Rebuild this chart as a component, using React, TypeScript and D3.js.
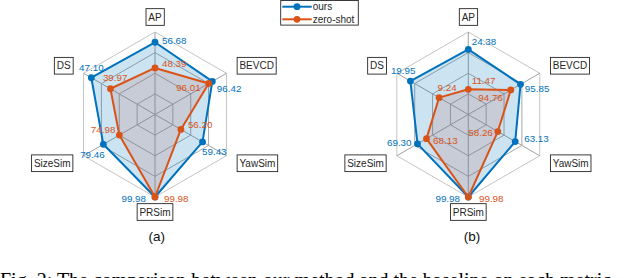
import React, { useEffect, useRef } from 'react';
import * as d3 from 'd3';

// axes, clockwise from the top
const axes = ['AP', 'BEVCD', 'YawSim', 'PRSim', 'SizeSim', 'DS'];

// chart (a)
const oursA = [56.68, 96.42, 59.43, 99.98, 79.46, 47.1];
const zeroA = [48.39, 96.01, 56.2, 99.98, 74.98, 39.97];
const limitsA = [[40, 60], [92, 98], [55, 63], [99.5, 99.98], [70, 85], [30, 50]];

// chart (b)
const oursB = [24.38, 95.85, 63.13, 99.98, 69.3, 19.95];
const zeroB = [11.47, 94.76, 58.26, 99.98, 68.13, 9.24];
const limitsB = [[10, 30], [92, 98], [55, 70], [99.5, 99.98], [65, 72], [5, 25]];

const seriesNames = ['ours', 'zero-shot'];
const colors = ['#0072BD', '#D95319'];

// where each value label sits relative to its marker: [dx, dy, anchor]
const labelPosA = [
  [[7, -2, 'start'], [4.5, 7.5, 'start'], [-0.5, 10, 'start'], [-9, 1, 'end'], [1.3, 9.7, 'end'], [0, -10.6, 'middle']],
  [[7, -4.4, 'start'], [-8, 4, 'end'], [7, -5.3, 'start'], [9, 1, 'start'], [-4, -5.4, 'end'], [4.7, -11, 'middle']],
];
const labelPosB = [
  [[3.4, -7.6, 'start'], [4.3, 4.3, 'start'], [9, -2.7, 'start'], [-8.3, 1.6, 'end'], [-6, -1.4, 'end'], [-7.2, -10.7, 'middle']],
  [[3.4, -9, 'start'], [-8, 7.7, 'end'], [-5, 1.4, 'end'], [10.7, 1.6, 'start'], [6.6, 2.3, 'start'], [8, -10, 'middle']],
];

const W = 624;
const H = 278;
const R = 82.5;
const FONT = '"Liberation Sans", Arial, sans-serif';

const drawRadar = (svg, cx, cy, ours, zero, limits, labelPos, tag) => {
  const g = svg.append('g').attr('transform', `translate(${cx}, ${cy})`);
  const n = axes.length;
  const angle = i => (i * 2 * Math.PI) / n;

  const scales = limits.map(l => d3.scaleLinear().domain(l).range([R * 0.25, R]));

  // web rings
  const ringLine = d3.lineRadial().curve(d3.curveLinearClosed);
  [0.25, 0.5, 0.75, 1].forEach(f => {
    g.append('path')
      .attr('d', ringLine(axes.map((_, i) => [angle(i), R * f])))
      .attr('fill', 'none')
      .attr('stroke', f === 1 ? '#c4c4c4' : '#a8a8a8')
      .attr('stroke-width', 1);
  });

  // spokes
  axes.forEach((_, i) => {
    const [x, y] = d3.pointRadial(angle(i), R);
    g.append('line')
      .attr('x1', 0).attr('y1', 0)
      .attr('x2', x).attr('y2', y)
      .attr('stroke', '#a0a0a0')
      .attr('stroke-width', 1);
  });

  const series = [ours, zero];
  const fills = ['rgba(0,114,189,0.2)', 'rgba(184,117,107,0.2)'];
  const line = d3.lineRadial().curve(d3.curveLinearClosed);

  series.forEach((vals, s) => {
    g.append('path')
      .attr('d', line(vals.map((v, i) => [angle(i), scales[i](v)])))
      .attr('fill', fills[s])
      .attr('stroke', 'none');
  });

  series.forEach((vals, s) => {
    g.append('path')
      .attr('d', line(vals.map((v, i) => [angle(i), scales[i](v)])))
      .attr('fill', 'none')
      .attr('stroke', colors[s])
      .attr('stroke-width', 2)
      .attr('stroke-linejoin', 'round');

    g.selectAll(`.pt-${tag}-${s}`)
      .data(vals)
      .enter().append('circle')
      .attr('cx', (v, i) => d3.pointRadial(angle(i), scales[i](v))[0])
      .attr('cy', (v, i) => d3.pointRadial(angle(i), scales[i](v))[1])
      .attr('r', 3.4)
      .attr('fill', colors[s]);
  });

  // value labels
  series.forEach((vals, s) => {
    vals.forEach((v, i) => {
      const [x, y] = d3.pointRadial(angle(i), scales[i](v));
      const [dx, dy, anchor] = labelPos[s][i];
      g.append('text')
        .attr('x', x + dx)
        .attr('y', y + dy)
        .attr('text-anchor', anchor)
        .attr('dominant-baseline', 'central')
        .style('font-family', FONT)
        .style('font-size', '9.8px')
        .style('fill', colors[s])
        .text(d3.format('.2f')(v));
    });
  });

  // axis labels in boxes
  axes.forEach((name, i) => {
    const [x, y] = d3.pointRadial(angle(i), 97.5);
    const anchor = i === 0 || i === 3 ? 'middle' : i < 3 ? 'start' : 'end';
    const t = g.append('text')
      .attr('x', x)
      .attr('y', y)
      .attr('text-anchor', anchor)
      .attr('dominant-baseline', 'central')
      .style('font-family', FONT)
      .style('font-size', '10px')
      .style('fill', '#262626')
      .text(name);
    const bb = t.node().getBBox();
    const padX = 2.3;
    const bh = 16.7;
    g.insert('rect', 'text')
      .attr('x', bb.x - padX)
      .attr('y', y - bh / 2)
      .attr('width', bb.width + padX * 2)
      .attr('height', bh)
      .attr('fill', '#fff')
      .attr('stroke', '#262626')
      .attr('stroke-width', 0.9);
  });
};

const App = () => {
  const ref = useRef(null);

  useEffect(() => {
    const svg = d3.select(ref.current);
    svg.selectAll('*').remove();

    drawRadar(svg, 155, 114.5, oursA, zeroA, limitsA, labelPosA, 'a');
    drawRadar(svg, 468.3, 114.5, oursB, zeroB, limitsB, labelPosB, 'b');

    // legend
    const lg = svg.append('g');
    lg.append('rect')
      .attr('x', 280.7).attr('y', 0.5)
      .attr('width', 77.6).attr('height', 24.6)
      .attr('fill', '#fff')
      .attr('stroke', '#262626')
      .attr('stroke-width', 0.9);
    seriesNames.forEach((name, s) => {
      const y = 6.7 + s * 12.6;
      lg.append('line')
        .attr('x1', 282.3).attr('x2', 311.7)
        .attr('y1', y).attr('y2', y)
        .attr('stroke', colors[s])
        .attr('stroke-width', 2);
      lg.append('circle')
        .attr('cx', 297).attr('cy', y)
        .attr('r', 3.4)
        .attr('fill', colors[s]);
      lg.append('text')
        .attr('x', 312.7).attr('y', y)
        .attr('dominant-baseline', 'central')
        .style('font-family', FONT)
        .style('font-size', '10px')
        .style('fill', '#262626')
        .text(name);
    });

    // sub captions
    [['(a)', 156.7], ['(b)', 472]].forEach(([txt, x]) => {
      svg.append('text')
        .attr('x', x).attr('y', 236.5)
        .attr('text-anchor', 'middle')
        .attr('dominant-baseline', 'central')
        .style('font-family', FONT)
        .style('font-size', '13.5px')
        .style('fill', '#111')
        .text(txt);
    });

    // figure caption, cut off by the bottom edge as in the page
    svg.append('text')
      .attr('x', 0).attr('y', 287)
      .style('font-family', '"Liberation Serif", "Times New Roman", serif')
      .style('font-size', '20px')
      .style('fill', '#000')
      .text('Fig. 2: The comparison between our method and the baseline on each metric.');
  }, []);

  return (
    <svg
      ref={ref}
      width={W}
      height={H}
      style={{ position: 'absolute', left: 0, top: 0, background: '#fff' }}
    />
  );
};

export default App;
